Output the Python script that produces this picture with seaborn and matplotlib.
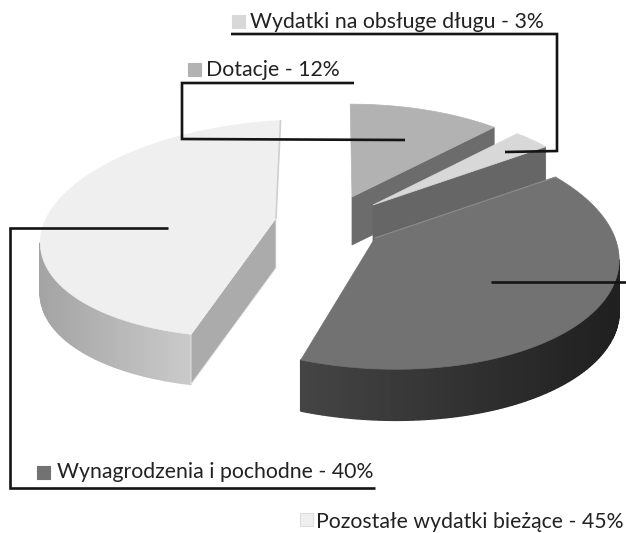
import numpy as np
import matplotlib
matplotlib.use("Agg")
import matplotlib.pyplot as plt
from matplotlib.patches import Polygon, Rectangle
import seaborn as sns

# ---- data ----
categories = ["Dotacje", "Wydatki na obsługe długu", "Wynagrodzenia i pochodne", "Pozostałe wydatki bieżące"]
shares = [12, 3, 40, 45]

# ---- style / layout (pixels of the 626x533 canvas) ----
top_grey = ["#b2b2b2", "#d8d8d8", "#727272", "#efefef"]
cut_grey = ["#6c6c6c", "#666666", "#2e2e2e", "#ababab"]
side_from = ["#6c6c6c", "#666666", "#1f1f1f", "#cacaca"]
side_to = ["#6c6c6c", "#666666", "#444444", "#a4a4a4"]
apex_x = [352, 373, 375, 276]
apex_y = [197, 205, 238, 218]
rad_x = [228, 226, 242, 234]
rad_y = [104, 105, 118, 107]
persp = [0.12, 0.10, 0.10, 0.098]
shear_x = [2, 0, 8, -5]
shear_y = [0, 0, 6, -12]
depth = [48, 48, 51, 50]

label_text = [f"{c} - {s}%" for c, s in zip(categories, shares)]
label_x = [206, 250, 57, 316]
label_y = [70, 22, 472, 522]
swatch_x = [188, 232, 37, 300]
swatch_y = [63, 15, 466, 513]

leaders = [
    ([354, 182, 182, 405], [83, 83, 139, 140]),
    ([231, 557, 557, 505], [34, 34, 151, 152]),
    ([491, 626], [282, 282]),
    ([168, 10, 10, 375], [228, 228, 488, 488]),
]

sns.set_theme(style="white")
plt.rcParams["font.family"] = ["Lato", "DejaVu Sans"]
fig, ax = plt.subplots(figsize=(6.26, 5.33), dpi=100)
fig.subplots_adjust(0, 0, 1, 1)
ax.set_xlim(0, 626)
ax.set_ylim(533, 0)
ax.axis("off")


def project(i, t):
    """Clockwise angle from 12 o'clock (degrees) -> canvas pixels, with perspective."""
    r = np.radians(t)
    X, Y = np.sin(r), -np.cos(r)
    w = 1 - persp[i] * Y
    return (apex_x[i] + (rad_x[i] * X + shear_x[i] * Y) / w,
            apex_y[i] + (rad_y[i] * Y + shear_y[i] * X) / w)


edges = np.concatenate([[0], np.cumsum(shares)]) * 3.6

for i in range(len(shares)):
    t = np.linspace(edges[i], edges[i + 1], max(int(shares[i] * 3), 12))
    x, y = project(i, t)
    d = depth[i]
    # rounded outer wall, shaded left to right
    front = np.where(np.diff(x) < 0)[0]
    if len(front):
        pal = sns.blend_palette([side_to[i], side_from[i]], 64)
        lo, hi = x[front].min(), x[front].max() + 1e-6
        for k in front:
            q = [(x[k], y[k]), (x[k + 1], y[k + 1]), (x[k + 1], y[k + 1] + d), (x[k], y[k] + d)]
            c = pal[int(63 * (x[k] - lo) / (hi - lo))]
            ax.add_patch(Polygon(q, closed=True, fc=c, ec=c, lw=1.2, joinstyle="bevel", zorder=i * 3 + 1))
    # cut walls
    if i in (0, 1):
        e = (x[-1], y[-1])
        q = [(apex_x[i], apex_y[i]), e, (e[0], e[1] + d), (apex_x[i], apex_y[i] + d)]
        ax.add_patch(Polygon(q, closed=True, fc=cut_grey[i], ec=cut_grey[i], lw=0.5, zorder=i * 3 + 1))
    elif i == 3:
        q = [(apex_x[i], apex_y[i]), (x[0], y[0]), (x[0], y[0] + d), (apex_x[i], apex_y[i] + d)]
        ax.add_patch(Polygon(q, closed=True, fc=cut_grey[i], ec="#e8e8e8", lw=0.6, zorder=i * 3 + 1))
    # top face
    ax.add_patch(Polygon(np.column_stack([np.r_[apex_x[i], x], np.r_[apex_y[i], y]]), closed=True,
                         fc=top_grey[i], ec=top_grey[i], lw=0.5, zorder=i * 3 + 2))

# faint edge along the 12 o'clock side of the big light slice
tx, ty = project(3, 360.0)
ax.plot([apex_x[3], tx], [apex_y[3], ty], color="#cfcfcf", lw=1.2, zorder=11)
# thin highlight where the dark slice meets the wall behind it
tx, ty = project(2, edges[2])
ax.plot([apex_x[2], tx], [apex_y[2], ty], color="#8c8c8c", lw=0.8, zorder=9)

for (lx, ly) in leaders:
    ax.plot(lx, ly, color="#141414", lw=1.9, solid_joinstyle="miter", solid_capstyle="butt", zorder=20)

for i, txt in enumerate(label_text):
    ax.text(label_x[i], label_y[i], txt, fontsize=15.3, color="#222222", va="center", ha="left", zorder=21)
    ax.add_patch(Rectangle((swatch_x[i], swatch_y[i]), 13, 13, fc=top_grey[i],
                           ec="#dddddd" if i == 3 else top_grey[i], lw=0.8, zorder=21))

fig.savefig("out.png", dpi=100)
